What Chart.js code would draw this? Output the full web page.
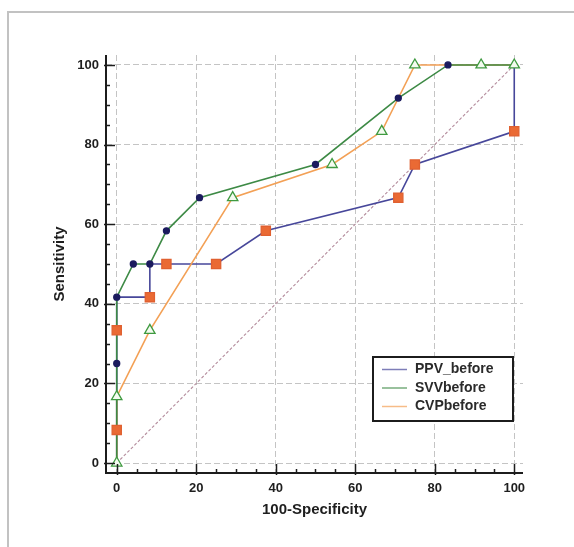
<!DOCTYPE html>
<html>
<head>
<meta charset="utf-8">
<script src="https://cdn.jsdelivr.net/npm/chart.js@4.4.1/dist/chart.umd.min.js"></script>
<style>
  html, body { margin: 0; padding: 0; background: #fff; }
  #wrap { width: 574px; height: 547px; }
</style>
</head>
<body>
<div id="wrap"><canvas id="roc" width="574" height="547"></canvas></div>
<script>
// ROC curves (x = 100-Specificity, y = Sensitivity)
const ppvX = [0, 0, 0, 0, 8.33, 8.33, 12.5, 25, 37.5, 70.83, 75, 100, 100];
const ppvY = [0, 8.33, 33.33, 41.67, 41.67, 50, 50, 50, 58.33, 66.67, 75, 83.33, 100];
const ppvMarkX = [0, 0, 8.33, 12.5, 25, 37.5, 70.83, 75, 100];
const ppvMarkY = [8.33, 33.33, 41.67, 50, 50, 58.33, 66.67, 75, 83.33];

const svvX = [0, 0, 0, 4.17, 8.33, 12.5, 20.83, 50, 70.83, 83.33, 100];
const svvY = [0, 25, 41.67, 50, 50, 58.33, 66.67, 75, 91.67, 100, 100];
const svvMarkX = [0, 0, 4.17, 8.33, 12.5, 20.83, 50, 70.83, 83.33];
const svvMarkY = [25, 41.67, 50, 50, 58.33, 66.67, 75, 91.67, 100];

const cvpX = [0, 0, 8.33, 29.17, 54.17, 66.67, 75, 91.67, 100];
const cvpY = [0, 16.67, 33.33, 66.67, 75, 83.33, 100, 100, 100];

const chanceX = [0, 100];
const chanceY = [0, 100];

const seriesNames = ['PPV_before', 'SVVbefore', 'CVPbefore'];
const axisTicks = [0, 20, 40, 60, 80, 100];
const xTitle = '100-Specificity';
const yTitle = 'Sensitivity';

const pts = (xs, ys) => xs.map((x, i) => ({ x: x, y: ys[i] }));

const BLUE = '#47479a';
const GREEN = '#3d8a45';
const ORANGE = '#f3a055';

function lineSet(label, data, color, order) {
  return { label, data, borderColor: color, borderWidth: 1.6, pointRadius: 0, showLine: true, fill: false, tension: 0, order, isCurve: true };
}
function markSet(data, style, radius, bg, border, order) {
  return { data, showLine: false, pointStyle: style, pointRadius: radius, pointHoverRadius: radius,
    backgroundColor: bg, borderColor: border, pointBorderWidth: 1.3, order };
}

const frame = {
  id: 'frame',
  beforeDraw(chart) {
    const ctx = chart.ctx;
    ctx.save();
    ctx.fillStyle = '#fff';
    ctx.fillRect(0, 0, chart.width, chart.height);
    ctx.strokeStyle = '#c2c2c2';
    ctx.lineWidth = 2;
    ctx.beginPath();
    ctx.moveTo(8, chart.height);
    ctx.lineTo(8, 12);
    ctx.lineTo(chart.width, 12);
    ctx.stroke();
    ctx.restore();
  }
};

const axesDeco = {
  id: 'axesDeco',
  afterDatasetsDraw(chart) {
    const ctx = chart.ctx;
    const a = chart.chartArea;
    const xs = chart.scales.x, ys = chart.scales.y;
    ctx.save();
    ctx.strokeStyle = '#1c1c1c';
    ctx.lineWidth = 2;
    ctx.beginPath();
    ctx.moveTo(a.left, a.top);
    ctx.lineTo(a.left, a.bottom);
    ctx.lineTo(a.right, a.bottom);
    ctx.stroke();
    ctx.lineWidth = 1.5;
    for (let v = 0; v <= 100; v += 5) {
      const major = v % 20 === 0;
      const len = major ? 9 : 4;
      const px = Math.round(xs.getPixelForValue(v)) + 0.5;
      const py = Math.round(ys.getPixelForValue(v)) + 0.5;
      ctx.beginPath();
      ctx.moveTo(px, a.bottom + (major ? 2 : 0));
      ctx.lineTo(px, a.bottom - len);
      ctx.moveTo(a.left - (major ? 2 : 0), py);
      ctx.lineTo(a.left + len, py);
      ctx.stroke();
    }
    // axis titles
    ctx.fillStyle = '#1e1e1e';
    ctx.font = 'bold 15px "Liberation Sans", Arial, sans-serif';
    ctx.textAlign = 'center';
    ctx.textBaseline = 'middle';
    ctx.fillText(xTitle, (a.left + a.right) / 2, 510);
    ctx.translate(60, (a.top + a.bottom) / 2);
    ctx.rotate(-Math.PI / 2);
    ctx.fillText(yTitle, 0, 0);
    ctx.restore();

    // legend box
    const curves = chart.data.datasets.filter(d => d.isCurve);
    const bx = 373, by = 357, bw = 140, bh = 64;
    ctx.save();
    ctx.fillStyle = '#fff';
    ctx.fillRect(bx, by, bw, bh);
    ctx.strokeStyle = '#1c1c1c';
    ctx.lineWidth = 2;
    ctx.strokeRect(bx, by, bw, bh);
    ctx.font = 'bold 14px "Liberation Sans", Arial, sans-serif';
    ctx.textBaseline = 'middle';
    ctx.textAlign = 'left';
    curves.forEach((d, i) => {
      const y = by + 12.5 + i * 18.5;
      ctx.strokeStyle = d.borderColor;
      ctx.globalAlpha = 0.7;
      ctx.lineWidth = 1.5;
      ctx.beginPath();
      ctx.moveTo(bx + 9, y);
      ctx.lineTo(bx + 34, y);
      ctx.stroke();
      ctx.globalAlpha = 1;
      ctx.fillStyle = '#2a2a2a';
      ctx.fillText(d.label, bx + 42, y);
    });
    ctx.restore();
  }
};

new Chart(document.getElementById('roc'), {
  type: 'scatter',
  data: {
    datasets: [
      markSet(pts(svvMarkX, svvMarkY), 'circle', 3, '#1b1b5e', '#1b1b5e', 0),
      markSet(pts(cvpX, cvpY), 'triangle', 6, '#f4fbf0', '#3f9a40', 0),
      markSet(pts(ppvMarkX, ppvMarkY), 'rect', 6.5, '#ea6a34', '#e06030', 0),
      lineSet(seriesNames[0], pts(ppvX, ppvY), BLUE, 3),
      lineSet(seriesNames[1], pts(svvX, svvY), GREEN, 1),
      lineSet(seriesNames[2], pts(cvpX, cvpY), ORANGE, 2),
      { data: pts(chanceX, chanceY), showLine: true, pointRadius: 0, borderColor: '#b48c9c', borderWidth: 1.1, borderDash: [3, 2], order: 10 }
    ]
  },
  options: {
    responsive: false,
    animation: false,
    events: [],
    layout: { padding: { left: 0, top: 55, right: 51, bottom: 0 } },
    plugins: { legend: { display: false }, tooltip: { enabled: false } },
    scales: {
      x: {
        type: 'linear', min: -2.7, max: 102.2,
        afterBuildTicks: s => { s.ticks = axisTicks.map(v => ({ value: v })); },
        afterFit: s => { s.height = 74; },
        grid: { color: '#c4c4c4', lineWidth: 1, drawTicks: false },
        border: { display: false, dash: [6, 3] },
        ticks: { padding: 8, color: '#1e1e1e', font: { family: '"Liberation Sans", Arial, sans-serif', size: 13, weight: 'bold' } }
      },
      y: {
        type: 'linear', min: -2.5, max: 102.5,
        afterBuildTicks: s => { s.ticks = axisTicks.map(v => ({ value: v })); },
        afterFit: s => { s.width = 106; },
        grid: { color: '#c4c4c4', lineWidth: 1, drawTicks: false },
        border: { display: false, dash: [6, 3] },
        ticks: { padding: 7, color: '#1e1e1e', font: { family: '"Liberation Sans", Arial, sans-serif', size: 13, weight: 'bold' } }
      }
    }
  },
  plugins: [frame, axesDeco]
});
</script>
</body>
</html>
